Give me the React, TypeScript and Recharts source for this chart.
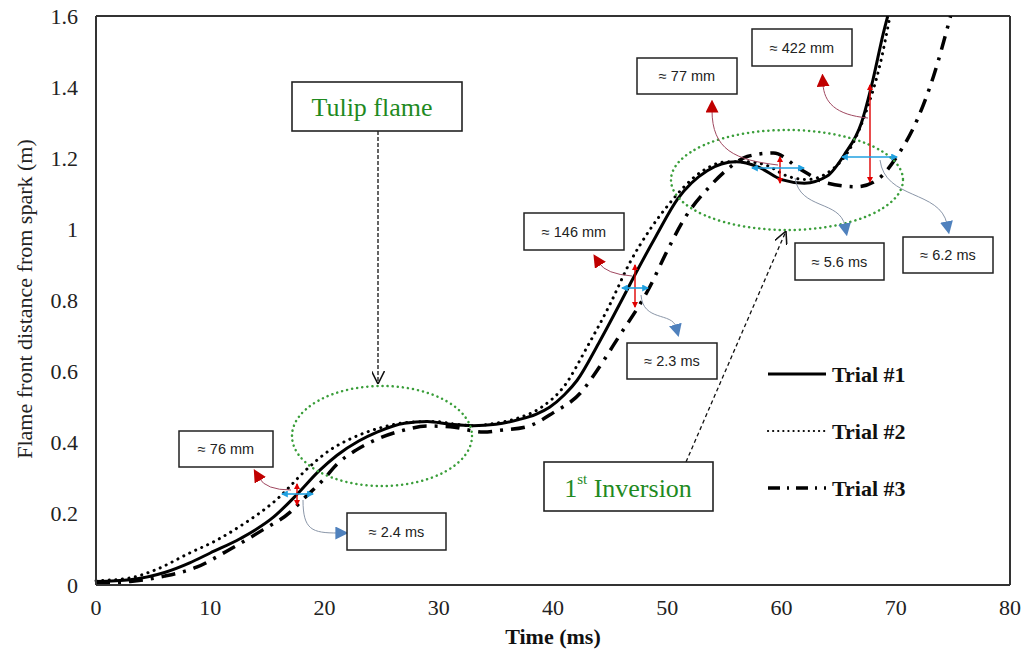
import { LineChart, Line, XAxis, YAxis, Legend, ReferenceLine } from 'recharts'

// Flame front position vs time, three trials
const trial1Time = [0, 3, 6, 8.2, 10, 12.6, 15.5, 17.6, 19.5, 21.1, 23, 24.6, 27, 29, 31, 33, 35, 37, 38.5, 39.7, 41, 42.1, 44, 46, 47.3, 49, 50.9, 53.5, 56, 58, 60, 62, 64, 65.5, 67, 68, 68.9, 69.3]
const trial1Dist = [0.01, 0.015, 0.035, 0.062, 0.09, 0.13, 0.19, 0.255, 0.32, 0.365, 0.405, 0.43, 0.455, 0.46, 0.452, 0.448, 0.452, 0.465, 0.48, 0.5, 0.535, 0.575, 0.68, 0.8, 0.88, 0.98, 1.085, 1.165, 1.19, 1.175, 1.14, 1.13, 1.15, 1.21, 1.3, 1.42, 1.55, 1.6]

const trial2Time = [0, 3, 5, 8.2, 10.5, 12.6, 15.8, 18.6, 20.5, 22.2, 25, 27.5, 29.5, 31.5, 33, 35, 37, 39, 41, 43, 45, 46.7, 48.5, 50, 52.9, 55.2, 57, 58.7, 60.5, 62.2, 64.5, 66.3, 67.5, 68.6, 69.5]
const trial2Dist = [0.012, 0.02, 0.04, 0.09, 0.125, 0.165, 0.24, 0.33, 0.38, 0.41, 0.443, 0.458, 0.46, 0.452, 0.448, 0.455, 0.47, 0.5, 0.56, 0.67, 0.79, 0.905, 1.0, 1.065, 1.16, 1.19, 1.19, 1.18, 1.15, 1.14, 1.17, 1.245, 1.34, 1.46, 1.6]

const trial3Time = [0, 3, 6, 8.8, 11.7, 14.6, 17, 18.1, 19.9, 21.1, 22.8, 24.6, 26.9, 29, 31, 33.9, 35.4, 37.7, 40, 42.4, 44, 45.6, 48.5, 50, 51.5, 53.7, 55.5, 57, 59.3, 61.6, 64, 66.6, 68.4, 70.1, 71.9, 73.3, 74.8]
const trial3Dist = [0.005, 0.01, 0.025, 0.05, 0.1, 0.155, 0.205, 0.24, 0.296, 0.34, 0.38, 0.41, 0.435, 0.447, 0.445, 0.43, 0.435, 0.445, 0.484, 0.54, 0.61, 0.69, 0.84, 0.94, 1.03, 1.12, 1.175, 1.205, 1.215, 1.17, 1.13, 1.12, 1.14, 1.205, 1.31, 1.43, 1.6]

const xTicks = [0, 10, 20, 30, 40, 50, 60, 70, 80]
const yTicks = [0, 0.2, 0.4, 0.6, 0.8, 1, 1.2, 1.4, 1.6]

const toRows = (ts: number[], ds: number[]) => ts.map((t, i) => ({ t, d: ds[i] }))
const trial1 = toRows(trial1Time, trial1Dist)
const trial2 = toRows(trial2Time, trial2Dist)
const trial3 = toRows(trial3Time, trial3Dist)

const SERIF = '"Liberation Serif", "Times New Roman", serif'
const SANS = '"Liberation Sans", Arial, sans-serif'
const GREEN = '#1f8a1f'
const AXIS = '#333'

const legendItems = [
  { name: 'Trial #1', dash: undefined, width: 3, cap: 'butt' },
  { name: 'Trial #2', dash: '0.1 5', width: 2.2, cap: 'round' },
  { name: 'Trial #3', dash: '12 7 2 7', width: 3.5, cap: 'butt' },
]

function XTick({ x, y, payload }: any) {
  return (
    <text x={x} y={y} dy="0.71em" textAnchor="middle" fontFamily={SERIF} fontSize={22} fill="#222">
      {payload.value}
    </text>
  )
}

function YTick({ x, y, payload }: any) {
  return (
    <text x={x} y={y} textAnchor="end" dominantBaseline="central" fontFamily={SERIF} fontSize={22} fill="#222">
      {payload.value}
    </text>
  )
}

function TrialLegend() {
  return (
    <svg width={170} height={150}>
      {legendItems.map((it, i) => (
        <g key={it.name} transform={`translate(0, ${14 + i * 57})`}>
          <line x1={3} x2={61} y1={0} y2={0} stroke="#000" strokeWidth={it.width}
            strokeDasharray={it.dash} strokeLinecap={it.cap as any} />
          <text x={67} y={0} dominantBaseline="central" fontFamily={SERIF} fontWeight={700} fontSize={22} fill="#111">
            {it.name}
          </text>
        </g>
      ))}
    </svg>
  )
}

function Box({ x, y, w, h, text }: { x: number; y: number; w: number; h: number; text: string }) {
  return (
    <g>
      <rect x={x} y={y} width={w} height={h} fill="#fff" stroke="#222" strokeWidth={1.5} />
      <text x={x + w / 2} y={y + h / 2} textAnchor="middle" dominantBaseline="central" fontFamily={SANS} fontSize={14.5} fill="#222">
        {text}
      </text>
    </g>
  )
}

function Annotations() {
  return (
    <svg width={1024} height={654} style={{ position: 'absolute', left: 0, top: 0, pointerEvents: 'none' }}>
      <defs>
        <marker id="rh" viewBox="0 0 6 6" refX={5} refY={3} markerWidth={6} markerHeight={6} markerUnits="userSpaceOnUse" orient="auto-start-reverse">
          <path d="M0,0 L6,3 L0,6 z" fill="#e00000" />
        </marker>
        <marker id="bh" viewBox="0 0 6 6" refX={5} refY={3} markerWidth={7} markerHeight={7} markerUnits="userSpaceOnUse" orient="auto-start-reverse">
          <path d="M0,0 L6,3 L0,6 z" fill="#20a0e0" />
        </marker>
        <marker id="rt" viewBox="0 0 10 10" refX={2} refY={5} markerWidth={13} markerHeight={13} markerUnits="userSpaceOnUse" orient="auto">
          <path d="M0,0 L10,5 L0,10 z" fill="#c00000" />
        </marker>
        <marker id="bt" viewBox="0 0 10 10" refX={2} refY={5} markerWidth={13} markerHeight={13} markerUnits="userSpaceOnUse" orient="auto">
          <path d="M0,0 L10,5 L0,10 z" fill="#4f81bd" />
        </marker>
        <marker id="vh" viewBox="0 0 10 10" refX={10} refY={5} markerWidth={13} markerHeight={13} markerUnits="userSpaceOnUse" orient="auto">
          <path d="M0,0 L10,5 L0,10" fill="none" stroke="#111" strokeWidth={1.2} />
        </marker>
      </defs>

      {/* axis titles */}
      <text x={24} y={299} transform="rotate(-90 24 299)" textAnchor="middle" dominantBaseline="central" fontFamily={SERIF} fontSize={22} fill="#222">
        Flame front distance from spark (m)
      </text>
      <text x={553} y={636} textAnchor="middle" dominantBaseline="central" fontFamily={SERIF} fontWeight={700} fontSize={22} fill="#111">
        Time (ms)
      </text>

      {/* regions of interest */}
      <ellipse cx={382} cy={436} rx={90} ry={50} fill="none" stroke="#3a9e3a" strokeWidth={2.5} strokeDasharray="0.1 5" strokeLinecap="round" />
      <ellipse cx={787} cy={180} rx={116} ry={50} fill="none" stroke="#3a9e3a" strokeWidth={2.5} strokeDasharray="0.1 5" strokeLinecap="round" />

      {/* callout arrows */}
      <path d="M378,131 L378,384" stroke="#111" strokeWidth={1.3} strokeDasharray="4 2" markerEnd="url(#vh)" />
      <path d="M686,462 L786,231" stroke="#111" strokeWidth={1.3} strokeDasharray="4 3" markerEnd="url(#vh)" />

      <g fill="none">
        {/* set 1 */}
        <path d="M297,505 L297,484" stroke="#e00000" strokeWidth={1.4} markerStart="url(#rh)" markerEnd="url(#rh)" />
        <path d="M282,494 L313,494" stroke="#20a0e0" strokeWidth={1.6} markerStart="url(#bh)" markerEnd="url(#bh)" />
        <path d="M291,490 Q266,490 259,478" stroke="#a04860" strokeWidth={1} markerEnd="url(#rt)" />
        <path d="M303,500 C303,530 312,533 338,533" stroke="#8a96a8" strokeWidth={1} markerEnd="url(#bt)" />
        {/* set 2 */}
        <path d="M635,307 L635,265" stroke="#e00000" strokeWidth={1.4} markerStart="url(#rh)" markerEnd="url(#rh)" />
        <path d="M622,288 L648,288" stroke="#20a0e0" strokeWidth={1.6} markerStart="url(#bh)" markerEnd="url(#bh)" />
        <path d="M632,276 Q606,274 599,263" stroke="#a04860" strokeWidth={1} markerEnd="url(#rt)" />
        <path d="M641,295 C643,322 672,312 676,327" stroke="#8a96a8" strokeWidth={1} markerEnd="url(#bt)" />
        {/* set 3 */}
        <path d="M780,183 L780,157" stroke="#e00000" strokeWidth={1.4} markerStart="url(#rh)" markerEnd="url(#rh)" />
        <path d="M752,168 L804,168" stroke="#20a0e0" strokeWidth={1.6} markerStart="url(#bh)" markerEnd="url(#bh)" />
        <path d="M778,165 C735,160 712,150 712,110" stroke="#a04860" strokeWidth={1} markerEnd="url(#rt)" />
        <path d="M795,178 C800,210 840,200 845,226" stroke="#8a96a8" strokeWidth={1} markerEnd="url(#bt)" />
        {/* set 4 */}
        <path d="M870,182 L870,85" stroke="#e00000" strokeWidth={1.4} markerStart="url(#rh)" markerEnd="url(#rh)" />
        <path d="M842,157 L897,157" stroke="#20a0e0" strokeWidth={1.6} markerStart="url(#bh)" markerEnd="url(#bh)" />
        <path d="M868,118 C835,115 824,102 823,84" stroke="#a04860" strokeWidth={1} markerEnd="url(#rt)" />
        <path d="M880,160 C885,200 940,190 947,224" stroke="#8a96a8" strokeWidth={1} markerEnd="url(#bt)" />
      </g>

      {/* labels */}
      <rect x={292} y={82} width={170} height={49} fill="#fff" stroke="#222" strokeWidth={1.6} />
      <text x={372} y={107} textAnchor="middle" dominantBaseline="central" fontFamily={SERIF} fontSize={26} fill={GREEN}>
        Tulip flame
      </text>
      <rect x={544} y={462} width={169} height={49} fill="#fff" stroke="#222" strokeWidth={1.6} />
      <text x={628} y={488} textAnchor="middle" dominantBaseline="central" fontFamily={SERIF} fontSize={26} fill={GREEN}>
        <tspan>1</tspan>
        <tspan dy={-9} fontSize={15}>st</tspan>
        <tspan dy={9}> Inversion</tspan>
      </text>

      <Box x={179} y={431} w={94} h={36} text="≈ 76 mm" />
      <Box x={347} y={513} w={99} h={37} text="≈ 2.4 ms" />
      <Box x={524} y={213} w={100} h={37} text="≈ 146 mm" />
      <Box x={627} y={343} w={90} h={36} text="≈ 2.3 ms" />
      <Box x={637} y={58} w={100} h={36} text="≈ 77 mm" />
      <Box x={752} y={29} w={100} h={37} text="≈ 422 mm" />
      <Box x={795} y={243} w={89} h={37} text="≈ 5.6 ms" />
      <Box x={903} y={237} w={90} h={36} text="≈ 6.2 ms" />
    </svg>
  )
}

export default function App() {
  return (
    <div style={{ position: 'absolute', left: 0, top: 0, width: 1024, height: 654, background: '#fff', fontFamily: SERIF }}>
      <LineChart width={1024} height={654} margin={{ top: 16, right: 14, bottom: 0, left: 0 }}>
        <XAxis
          type="number"
          dataKey="t"
          domain={[0, 80]}
          ticks={xTicks}
          tick={<XTick />}
          tickLine={false}
          tickMargin={8}
          axisLine={{ stroke: AXIS, strokeWidth: 2 }}
          height={69}
          allowDuplicatedCategory={false}
        />
        <YAxis
          type="number"
          domain={[0, 1.6]}
          ticks={yTicks}
          tick={<YTick />}
          tickLine={false}
          tickMargin={12}
          axisLine={{ stroke: AXIS, strokeWidth: 2 }}
          width={96}
          allowDataOverflow
        />
        <ReferenceLine y={1.6} stroke={AXIS} strokeWidth={2} />
        <ReferenceLine x={80} stroke={AXIS} strokeWidth={2} />
        <Legend
          layout="horizontal"
          verticalAlign="middle"
          content={() => <TrialLegend />}
          wrapperStyle={{ left: 765, top: 360, width: 170, height: 150 }}
        />
        <Line data={trial1} dataKey="d" name="Trial #1" type="monotone" stroke="#000" strokeWidth={3}
          dot={false} activeDot={false} isAnimationActive={false} />
        <Line data={trial2} dataKey="d" name="Trial #2" type="monotone" stroke="#000" strokeWidth={3}
          strokeDasharray="0.1 6.5" strokeLinecap="round" dot={false} activeDot={false} isAnimationActive={false} />
        <Line data={trial3} dataKey="d" name="Trial #3" type="monotone" stroke="#000" strokeWidth={3.5}
          strokeDasharray="14 8 3 8" dot={false} activeDot={false} isAnimationActive={false} />
      </LineChart>
      <Annotations />
    </div>
  )
}
